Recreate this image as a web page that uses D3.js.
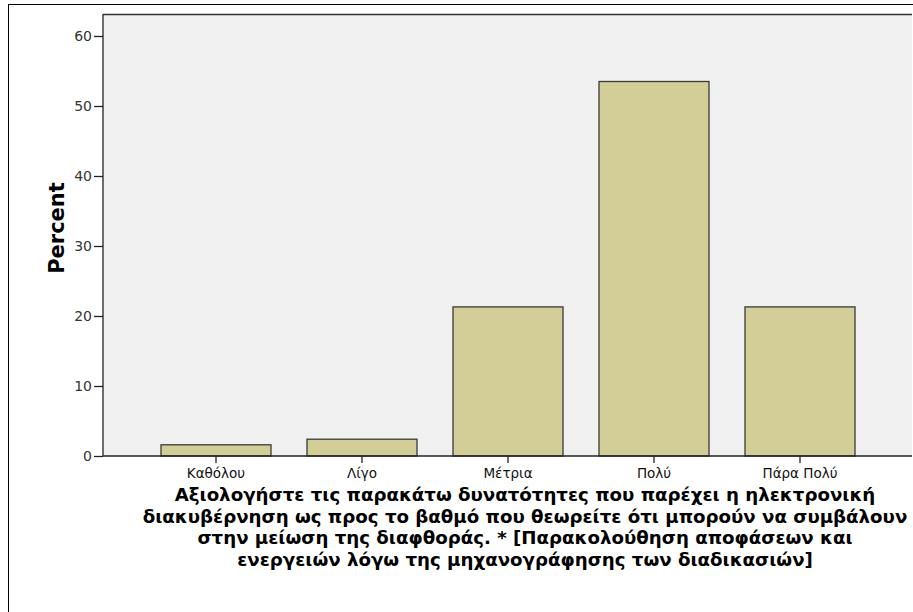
<!DOCTYPE html>
<html>
<head>
<meta charset="utf-8">
<script src="https://cdn.jsdelivr.net/npm/d3@7"></script>
<style>
  body { margin: 0; background: #fff; }
  svg { display: block; font-family: "DejaVu Sans", Verdana, sans-serif; }
  .bars rect { fill: #d3ce97; stroke: #3a3a3a; stroke-width: 1.3; }
  .axis path, .axis line { stroke: #222; stroke-width: 1.3; }
</style>
</head>
<body>
<svg id="chart" width="913" height="612"></svg>
<script>
var categories = ["Καθόλου", "Λίγο", "Μέτρια", "Πολύ", "Πάρα Πολύ"];
var percents = [1.6, 2.4, 21.3, 53.5, 21.3];
var yTicks = [0, 10, 20, 30, 40, 50, 60];
var titleLines = [
  "Αξιολογήστε τις παρακάτω δυνατότητες που παρέχει η ηλεκτρονική",
  "διακυβέρνηση ως προς το βαθμό που θεωρείτε ότι μπορούν να συμβάλουν",
  "στην μείωση της διαφθοράς. * [Παρακολούθηση αποφάσεων και",
  "ενεργειών λόγω της μηχανογράφησης των διαδικασιών]"
];

var svg = d3.select("#chart");

// outer frame
svg.append("rect")
  .attr("x", 8.5).attr("y", 4.5)
  .attr("width", 920).attr("height", 620)
  .attr("fill", "none").attr("stroke", "#000").attr("stroke-width", 1);

var plot = { left: 103, right: 912, top: 14, bottom: 456 };

var x = d3.scaleBand()
  .domain(categories)
  .range([161, 855])
  .paddingInner(0.2466)
  .paddingOuter(0);

var y = d3.scaleLinear()
  .domain([0, 60])
  .range([plot.bottom, 36]);

// plot background
svg.append("rect")
  .attr("x", plot.left).attr("y", plot.top)
  .attr("width", plot.right - plot.left).attr("height", plot.bottom - plot.top)
  .attr("fill", "#f0f0f0");
svg.append("line")
  .attr("x1", plot.left).attr("x2", plot.right)
  .attr("y1", plot.top + 0.5).attr("y2", plot.top + 0.5)
  .attr("stroke", "#333").attr("stroke-width", 1.3);

// bars
svg.append("g").classed("bars", true)
  .selectAll("rect")
  .data(percents)
  .enter().append("rect")
    .attr("x", function(d, i) { return x(categories[i]); })
    .attr("y", function(d) { return y(d); })
    .attr("width", x.bandwidth())
    .attr("height", function(d) { return y(0) - y(d); });

// axes
var yAxis = svg.append("g").classed("axis", true)
  .attr("transform", "translate(" + plot.left + ",0)")
  .call(d3.axisLeft(y).tickValues(yTicks).tickSize(9).tickSizeOuter(0).tickPadding(2));
yAxis.select(".domain").attr("d", "M0," + plot.top + "V" + plot.bottom);
yAxis.selectAll("text").attr("font-size", 14).attr("fill", "#333")
  .attr("font-family", "'DejaVu Sans', Verdana, sans-serif");

var xAxis = svg.append("g").classed("axis", true)
  .attr("transform", "translate(0," + plot.bottom + ")")
  .call(d3.axisBottom(x).tickSize(7).tickSizeOuter(0).tickPadding(5));
xAxis.select(".domain").attr("d", "M" + plot.left + ",0H" + plot.right);
xAxis.selectAll("text").attr("font-size", 13.5).attr("fill", "#111")
  .attr("font-family", "'DejaVu Sans', Verdana, sans-serif");

// y label
svg.append("text")
  .attr("transform", "translate(64,228) rotate(-90)")
  .attr("text-anchor", "middle")
  .attr("font-size", 21).attr("font-weight", "bold")
  .text("Percent");

// x title
svg.append("g").selectAll("text")
  .data(titleLines)
  .enter().append("text")
    .attr("x", 525)
    .attr("y", function(d, i) { return 501 + i * 21.5; })
    .attr("text-anchor", "middle")
    .attr("font-size", 18.2).attr("font-weight", "bold")
    .text(function(d) { return d; });
</script>
</body>
</html>
